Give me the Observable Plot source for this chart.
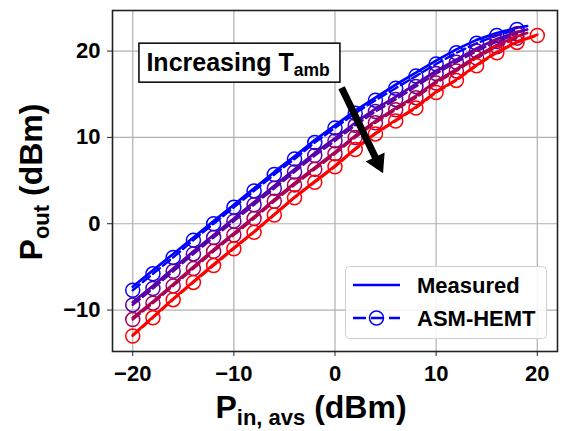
<!DOCTYPE html>
<html><head><meta charset="utf-8">
<script src="https://cdn.jsdelivr.net/npm/d3@7"></script>
<script src="https://cdn.jsdelivr.net/npm/@observablehq/plot@0.6"></script>
<style>
body{margin:0;background:#fff;font-family:"Liberation Sans",Arial,sans-serif}
#chart{width:562px;height:431px}
</style>
</head><body><div id="chart"></div>
<script>
// Input power steps (dBm)
const pinSteps = [-20,-18,-16,-14,-12,-10,-8,-6,-4,-2,0,2,4,6,8,10,12,14,16,18];
// last measured input point per temperature (lowest -> highest T)
const lastPinMeas = [19, 19, 19, 20];
const lastPinModel = [null, null, null, 20];
const tempNames = ["T1","T2","T3","T4"];
const tempColors = ["#0000ff","#5500aa","#aa0055","#ff0000"];

// Measured Pout (dBm)
const measT1 = [-7.3,-5.4,-3.5,-1.6,0.3,2.2,4.1,6.0,7.8,9.7,11.4,13.1,14.6,16.1,17.5,18.9,20.2,21.3,22.1,22.7,22.9];
const measT2 = [-9.1,-7.2,-5.2,-3.2,-1.3,0.6,2.5,4.4,6.3,8.2,9.9,11.7,13.3,14.7,16.2,17.7,19.0,20.3,21.4,22.2,22.5];
const measT3 = [-10.9,-9.0,-7.0,-5.0,-3.0,-1.1,0.8,2.8,4.7,6.5,8.3,10.2,11.9,13.4,14.8,16.5,17.9,19.4,20.7,21.7,22.1];
const measT4 = [-12.9,-10.8,-8.7,-6.7,-4.7,-2.8,-0.9,1.1,3.1,4.9,6.7,8.7,10.5,12.0,13.5,15.3,16.7,18.4,19.9,21.1,21.9];
// ASM-HEMT model Pout (dBm)
const modelT1 = [-7.7,-5.8,-3.9,-1.9,0.0,1.9,3.8,5.7,7.5,9.4,11.1,12.8,14.3,15.7,17.1,18.5,19.8,20.9,21.8,22.5];
const modelT2 = [-9.4,-7.5,-5.5,-3.5,-1.6,0.3,2.2,4.1,6.0,7.9,9.6,11.4,13.0,14.4,15.9,17.4,18.7,20.0,21.1,22.0];
const modelT3 = [-11.1,-9.2,-7.2,-5.2,-3.2,-1.3,0.6,2.6,4.5,6.3,8.1,10.0,11.7,13.2,14.6,16.3,17.7,19.2,20.5,21.5];
const modelT4 = [-13.0,-10.9,-8.8,-6.8,-4.85,-2.9,-1.0,1.0,3.0,4.8,6.6,8.6,10.4,11.9,13.4,15.2,16.6,18.3,19.8,21.0,21.8];

const xTicks = [-20,-10,0,10,20];
const yTicks = [-10,0,10,20];
const annotText = [-9.4, 18.6];
const arrowFrom = [0.7, 15.7];
const arrowTo = [4.8, 5.8];

const measAll = [measT1, measT2, measT3, measT4];
const modelAll = [modelT1, modelT2, modelT3, modelT4];

const marks = [
  Plot.gridX(xTicks, {stroke:"#b0b0b0", strokeOpacity:1, strokeWidth:1.2}),
  Plot.gridY(yTicks, {stroke:"#b0b0b0", strokeOpacity:1, strokeWidth:1.2})
];
tempNames.forEach((t, k) => {
  const mPins = pinSteps.concat([lastPinMeas[k]]);
  const meas = measAll[k].map((v, i) => ({x: mPins[i], y: v}));
  const pPins = lastPinModel[k] == null ? pinSteps : pinSteps.concat([lastPinModel[k]]);
  const model = modelAll[k].map((v, i) => ({x: pPins[i], y: v}));
  marks.push(Plot.line(meas, {x:"x", y:"y", stroke: tempColors[k], strokeWidth:2.7}));
  marks.push(Plot.line(model, {x:"x", y:"y", stroke: tempColors[k], strokeWidth:2.4, strokeDasharray:"9,4"}));
  marks.push(Plot.dot(model, {x:"x", y:"y", r:7, stroke: tempColors[k], fill:"none", strokeWidth:1.5}));
});
marks.push(Plot.frame({stroke:"#222", strokeWidth:1.6}));
marks.push(Plot.axisX(xTicks, {tickSize:5, tickPadding:9, label:null, fontSize:22, fontWeight:"bold", stroke:"#222"}));
marks.push(Plot.axisY(yTicks, {tickSize:5, tickPadding:7, label:null, fontSize:22, fontWeight:"bold", stroke:"#222"}));

const plot = Plot.plot({
  width: 562, height: 431,
  marginLeft: 112, marginRight: 5, marginTop: 10, marginBottom: 80,
  x: {domain: [-22, 22]},
  y: {domain: [-14.8, 24.7]},
  style: {fontFamily: '"Liberation Sans", Arial, sans-serif', fontSize: "22px", fontWeight: "bold", color: "#000", background: "#fff"},
  marks
});
document.getElementById("chart").appendChild(plot);

const sx = plot.scale("x"), sy = plot.scale("y");
const svg = d3.select(plot);
const ff = '"Liberation Sans", Arial, sans-serif';

// Axis labels
const yl = svg.append("text")
  .attr("transform", "translate(42,182) rotate(-90)")
  .attr("text-anchor", "middle").attr("font-family", ff)
  .attr("font-size", 32).attr("font-weight", "bold").attr("fill", "#000");
yl.append("tspan").text("P");
yl.append("tspan").attr("font-size", 22).attr("dy", 7).text("out");
yl.append("tspan").attr("dy", -7).text(" (dBm)");

const xl = svg.append("text")
  .attr("x", 311).attr("y", 418)
  .attr("text-anchor", "middle").attr("font-family", ff)
  .attr("font-size", 32).attr("font-weight", "bold").attr("fill", "#000");
xl.append("tspan").text("P");
xl.append("tspan").attr("font-size", 22).attr("dy", 7).text("in, avs");
xl.append("tspan").attr("dy", -7).text(" (dBm)");

// Arrow annotation
const p0 = [sx.apply(arrowFrom[0]), sy.apply(arrowFrom[1])];
const p1 = [sx.apply(arrowTo[0]), sy.apply(arrowTo[1])];
const dx = p1[0]-p0[0], dy = p1[1]-p0[1], L = Math.hypot(dx, dy);
const u = [dx/L, dy/L], n = [-u[1], u[0]];
const hl = 18, hw = 21, sw = 7;
const b = [p1[0]-u[0]*hl, p1[1]-u[1]*hl];
const pt = (p, s) => [p[0]+n[0]*s, p[1]+n[1]*s];
const poly = [pt(p0, sw/2), pt(b, sw/2), pt(b, hw/2), p1, pt(b, -hw/2), pt(b, -sw/2), pt(p0, -sw/2)];
svg.append("polygon").attr("points", poly.map(p => p.join(",")).join(" ")).attr("fill", "#000");

// Text box
const cx = sx.apply(annotText[0]), cy = sy.apply(annotText[1]);
svg.append("rect").attr("x", cx-100.5).attr("y", cy-19.5).attr("width", 201).attr("height", 39)
  .attr("fill", "#fff").attr("stroke", "#000").attr("stroke-width", 1.5);
const at = svg.append("text").attr("x", cx-93).attr("y", cy+8).attr("text-anchor", "start")
  .attr("font-family", ff).attr("font-size", 25).attr("font-weight", "bold").attr("fill", "#000");
at.append("tspan").text("Increasing T");
at.append("tspan").attr("font-size", 17.5).attr("dy", 5).text("amb");

// Legend
const lg = svg.append("g").attr("text-anchor", "start");
lg.append("rect").attr("x", 345.5).attr("y", 266.5).attr("width", 201).attr("height", 72).attr("rx", 4)
  .attr("fill", "#fff").attr("fill-opacity", 0.85).attr("stroke", "#d0d0d0").attr("stroke-width", 1);
lg.append("line").attr("x1", 353).attr("x2", 400).attr("y1", 285).attr("y2", 285)
  .attr("stroke", tempColors[0]).attr("stroke-width", 2.7);
lg.append("line").attr("x1", 353).attr("x2", 400).attr("y1", 318).attr("y2", 318)
  .attr("stroke", tempColors[0]).attr("stroke-width", 2.4).attr("stroke-dasharray", "13,5");
lg.append("circle").attr("cx", 376.5).attr("cy", 318).attr("r", 7)
  .attr("fill", "none").attr("stroke", tempColors[0]).attr("stroke-width", 1.5);
lg.append("text").attr("x", 417).attr("y", 293).attr("text-anchor", "start").attr("font-family", ff).attr("font-size", 22)
  .attr("font-weight", "bold").attr("fill", "#000").text("Measured");
lg.append("text").attr("x", 417).attr("y", 326).attr("text-anchor", "start").attr("font-family", ff).attr("font-size", 22)
  .attr("font-weight", "bold").attr("fill", "#000").text("ASM-HEMT");
</script>
</body></html>
